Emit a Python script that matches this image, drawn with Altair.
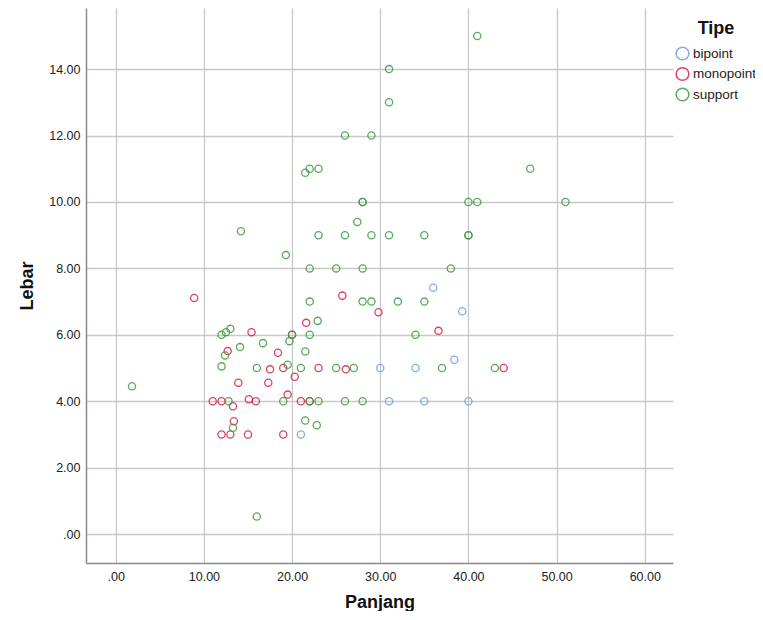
import altair as alt
import pandas as pd

# --- data ---
bip_x = [36, 39.3, 38.4, 30, 34, 31, 35, 40, 21]
bip_y = [7.42, 6.71, 5.25, 5, 5, 4, 4, 4, 3]

mono_x = [8.9, 25.7, 29.8, 21.6, 36.6, 15.4, 12.7, 18.4, 17.5, 19, 23, 26.1, 44,
          20.3, 13.9, 17.3, 19.5, 11, 12, 13.3, 15.1, 15.9, 21, 13.4, 12, 13, 15, 19,
          20, 22]
mono_y = [7.11, 7.18, 6.68, 6.36, 6.12, 6.08, 5.51, 5.46, 4.96, 5, 5, 4.96, 5,
          4.74, 4.56, 4.56, 4.2, 4, 4, 3.85, 4.06, 4, 4, 3.4, 3, 3, 3, 3,
          6, 4]

sup_x = [41, 31, 31, 26, 29, 47, 21.5, 22, 23, 28, 28, 40, 41, 51, 27.4, 14.2,
         23, 26, 29, 31, 35, 40, 40, 19.3, 22, 25, 28, 38, 22, 28, 29, 32, 35,
         22.9, 20, 22, 34, 12, 12.5, 13, 19.7, 16.7, 14.1, 21.5, 12.4, 19.5, 12,
         16, 21, 25, 27, 37, 43, 1.85, 19, 22, 23, 26, 28, 12.8, 21.5, 22.8, 13.3, 16]
sup_y = [15, 14, 13, 12, 12, 11, 10.88, 11, 11, 10, 10, 10, 10, 10, 9.4, 9.12,
         9, 9, 9, 9, 9, 9, 9, 8.4, 8, 8, 8, 8, 7, 7, 7, 7, 7,
         6.42, 6, 6, 6, 6, 6.08, 6.18, 5.81, 5.75, 5.63, 5.5, 5.38, 5.1, 5.05,
         5, 5, 5, 5, 5, 5, 4.45, 4, 4, 4, 4, 4, 4, 3.42, 3.28, 3.2, 0.53]

categories = ["bipoint", "monopoint", "support"]
colors = ["#6F9FE8", "#D8204A", "#3F9B3F"]
x_ticks = [0, 10, 20, 30, 40, 50, 60]
y_ticks = [0, 2, 4, 6, 8, 10, 12, 14]

rows = []
for cat, xs, ys in [("bipoint", bip_x, bip_y), ("monopoint", mono_x, mono_y),
                    ("support", sup_x, sup_y)]:
    for a, b in zip(xs, ys):
        rows.append({"Panjang": a, "Lebar": b, "Tipe": cat})
df = pd.DataFrame(rows)
df["order"] = df["Tipe"].map({c: i for i, c in enumerate(categories)})

FONT = "Liberation Sans"
lab_expr = "datum.value == 0 ? '.00' : format(datum.value, '.2f')"

chart = alt.Chart(df).mark_point(
    shape="circle", filled=False, size=52, strokeWidth=1.3, opacity=0.85
).encode(
    x=alt.X("Panjang:Q",
            scale=alt.Scale(domain=[-3.37, 63.2], nice=False, zero=False),
            axis=alt.Axis(values=x_ticks, labelExpr=lab_expr, title="Panjang",
                          labelPadding=7, titlePadding=11)),
    y=alt.Y("Lebar:Q",
            scale=alt.Scale(domain=[-0.87, 15.84], nice=False, zero=False),
            axis=alt.Axis(values=y_ticks, labelExpr=lab_expr, title="Lebar",
                          labelPadding=6, titlePadding=12)),
    color=alt.Color("Tipe:N",
                    scale=alt.Scale(domain=categories, range=colors),
                    legend=alt.Legend(title="Tipe", orient="none",
                                      legendX=589, legendY=12,
                                      titleAnchor="middle")),
    order=alt.Order("order:Q"),
).properties(
    width=587, height=555,
    autosize=alt.AutoSizeParams(type="none"),
    padding={"left": 78, "top": 0, "right": 82, "bottom": 48},
).configure_view(
    stroke=None
).configure_axis(
    grid=True, gridColor="#C8C8C8", gridWidth=1.3,
    domain=True, domainColor="#8A8A8A", domainWidth=1.5,
    ticks=False,
    labelFont=FONT, labelFontSize=12.5, labelColor="#222222",
    titleFont=FONT, titleFontSize=18, titleFontWeight="bold", titleColor="#111111",
).configure_legend(
    titleFont=FONT, titleFontSize=18, titleFontWeight="bold", titleColor="#111111",
    titlePadding=8,
    labelFont=FONT, labelFontSize=13.5, labelColor="#222222", labelOffset=3,
    symbolType="circle", symbolSize=160, symbolStrokeWidth=1.5,
    rowPadding=1.5,
)

chart.save("out.html", embed_options={"renderer": "svg", "actions": False})
